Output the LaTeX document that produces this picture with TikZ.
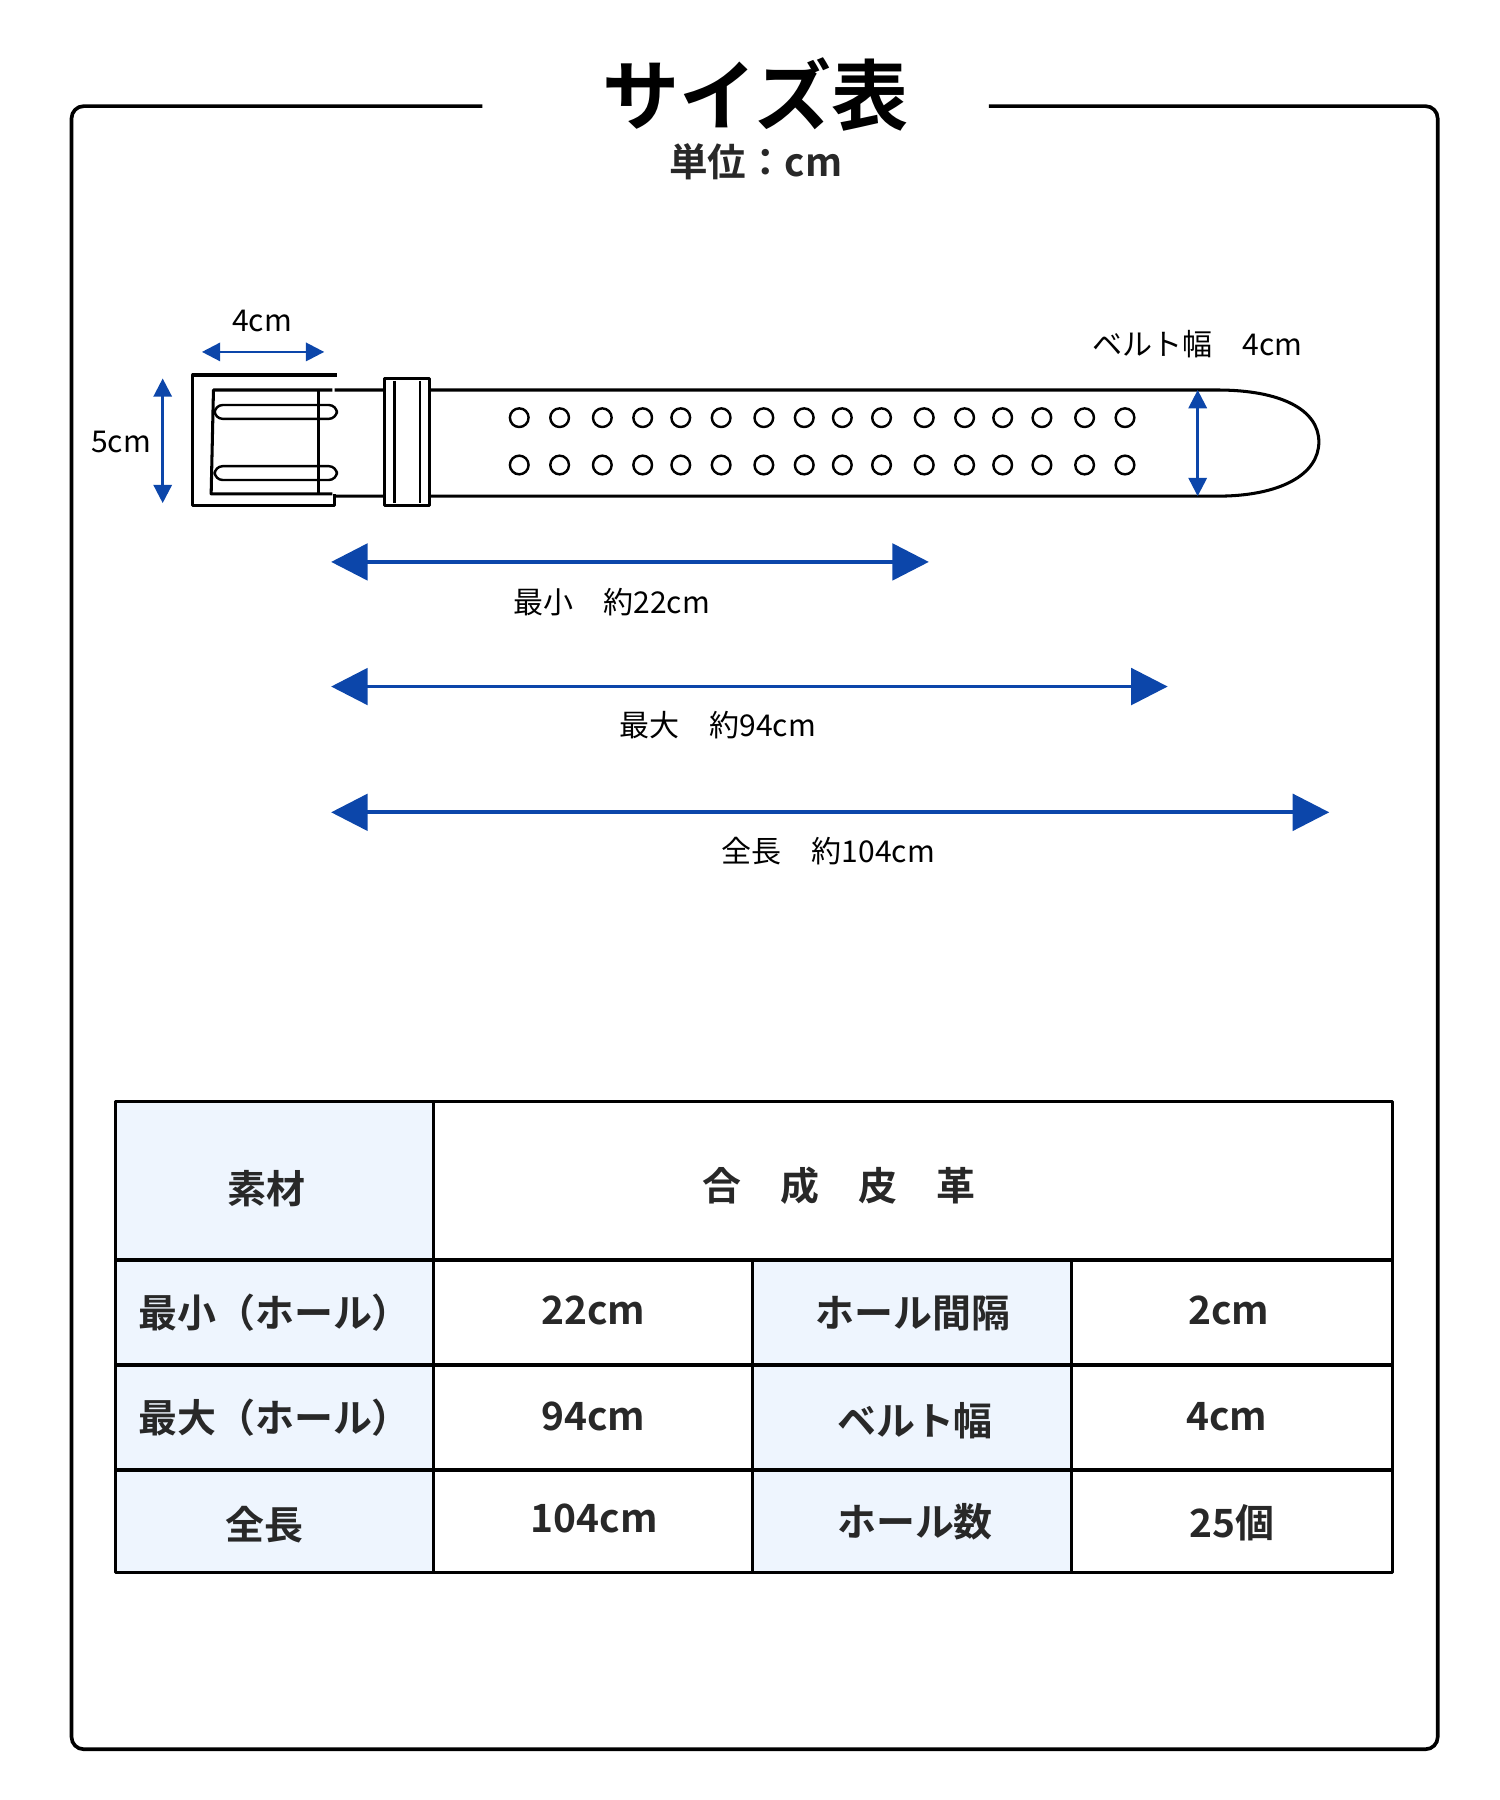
\documentclass[tikz,border=0pt]{standalone}
\usepackage{fontspec}
\setmainfont{Noto Sans CJK JP}
\newfontfamily\jpbold{Noto Sans CJK JP Bold}
\usetikzlibrary{positioning, arrows.meta}
\definecolor{SizeBlue}{RGB}{12, 70, 170}
\definecolor{CellBlue}{RGB}{238, 245, 254}
\definecolor{InkGrey}{RGB}{40, 40, 40}
\tikzset{
  dimarrow/.style={SizeBlue, line width=0.9pt, {Triangle[length=9pt, width=9pt]}-{Triangle[length=9pt, width=9pt]}},
  smallarrow/.style={SizeBlue, line width=0.6pt, {Triangle[length=4.5pt, width=4.5pt]}-{Triangle[length=4.5pt, width=4.5pt]}},
  hole/.style={circle, draw, line width=0.6pt, minimum size=4.6pt, inner sep=0pt},
  dimlabel/.style={font=\fontsize{7.4}{8}\selectfont},
  cellhead/.style={fill=CellBlue},
  celltext/.style={font=\jpbold\fontsize{9.6}{11}\selectfont, text=InkGrey}
}
\begin{document}
\begin{tikzpicture}[x=0.01cm, y=-0.01cm, line join=round]
    \useasboundingbox (0,0) rectangle (1300,1560);
    % Rahmen
    \draw[line width=0.9pt, rounded corners=3pt] (418,92) -- (62,92) -- (62,1516) -- (1246,1516) -- (1246,92) -- (857,92);
    \node[font=\jpbold\fontsize{19}{22}\selectfont] (title) at (655,82) {サイズ表};
    \node[font=\jpbold\fontsize{9.5}{11}\selectfont, text=InkGrey] (unit) at (655,140) {単位：cm};

    % Schnalle
    \draw[line width=0.75pt] (290,338) -- (1055,338) .. controls (1110,338) and (1143,355) .. (1143,383)
        .. controls (1143,411) and (1110,430) .. (1055,430) -- (290,430);
    \draw[line width=0.75pt] (292,325) -- (167,325) -- (167,438) -- (290,438) -- (290,428);
    \draw[line width=0.75pt] (288,338) -- (185,338) -- (183,428) -- (288,428);
    \draw[line width=0.6pt] (276,338) -- (276,428);
    \draw[line width=0.6pt, rounded corners=2pt] (292,351) -- (186,351) -- (186,363) -- (292,363) -- cycle;
    \draw[line width=0.6pt, rounded corners=2pt] (292,404) -- (186,404) -- (186,416) -- (292,416) -- cycle;
    \draw[line width=0.75pt, fill=white] (333,328) rectangle (372,438);
    \draw[line width=0.6pt] (342,330) -- (342,436);
    \draw[line width=0.6pt] (364,330) -- (364,436);

    % Loecher
    \foreach \hx in {450,485,522,557,590,625,662,697,730,764,801,836,869,903,940,975} {
        \node[hole] at (\hx,362) {};
        \node[hole] at (\hx,403) {};
    }

    % Masse am Guertel
    \coordinate (wtop) at (1038,338);
    \coordinate (wbot) at (1038,430);
    \draw[smallarrow] (wtop) -- (wbot);
    \node[dimlabel] (wlabel) at (1038,298) {ベルト幅\quad 4cm};
    \coordinate (bl) at (175,305);
    \coordinate (br) at (281,305);
    \draw[smallarrow] (bl) -- (br);
    \node[dimlabel] (blabel) at (227,278) {4cm};
    \coordinate (bt) at (141,328);
    \coordinate (bb) at (141,436);
    \draw[smallarrow] (bt) -- (bb);
    \node[dimlabel] (hlabel) at (105,383) {5cm};

    % Laengen
    \coordinate (start1) at (287,487);
    \coordinate (end1) at (805,487);
    \draw[dimarrow] (start1) -- (end1);
    \node[dimlabel] (minlabel) at (530,522) {最小\quad 約22cm};
    \coordinate (start2) at (287,595);
    \coordinate (end2) at (1012,595);
    \draw[dimarrow] (start2) -- (end2);
    \node[dimlabel] (maxlabel) at (622,628) {最大\quad 約94cm};
    \coordinate (start3) at (287,704);
    \coordinate (end3) at (1152,704);
    \draw[dimarrow] (start3) -- (end3);
    \node[dimlabel] (totlabel) at (718,738) {全長\quad 約104cm};

    % Tabelle
    \fill[cellhead] (100,955) rectangle (376,1363);
    \fill[cellhead] (652,1092) rectangle (929,1363);
    \draw[line width=0.75pt] (100,955) rectangle (1207,1363);
    \draw[line width=0.75pt] (376,955) -- (376,1363);
    \draw[line width=0.75pt] (652,1092) -- (652,1363);
    \draw[line width=0.75pt] (929,1092) -- (929,1363);
    \foreach \ry in {1092,1183,1274} {
        \draw[line width=0.75pt] (100,\ry) -- (1207,\ry);
    }
    \node[celltext] (mat) at (231,1030) {素材};
    \node[celltext] (matv) at (727,1028) {合\quad 成\quad 皮\quad 革};
    \node[celltext] (rmin) at (238,1138) {最小（ホール）};
    \node[celltext] (rminv) at (514,1136) {22cm};
    \node[celltext] (rgap) at (791,1138) {ホール間隔};
    \node[celltext] (rgapv) at (1065,1136) {2cm};
    \node[celltext] (rmax) at (238,1229) {最大（ホール）};
    \node[celltext] (rmaxv) at (514,1228) {94cm};
    \node[celltext] (rwid) at (793,1231) {ベルト幅};
    \node[celltext] (rwidv) at (1063,1228) {4cm};
    \node[celltext] (rtot) at (229,1321) {全長};
    \node[celltext] (rtotv) at (515,1316) {104cm};
    \node[celltext] (rnum) at (793,1319) {ホール数};
    \node[celltext] (rnumv) at (1068,1320) {25個};
\end{tikzpicture}
\end{document}
